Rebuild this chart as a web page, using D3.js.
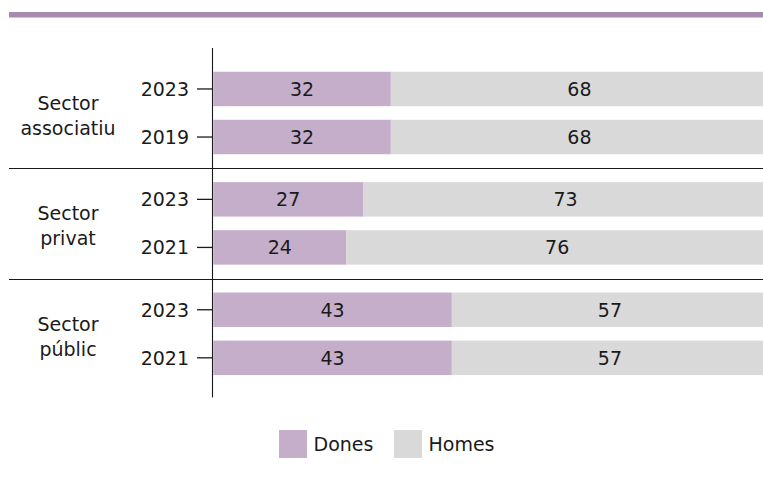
<!DOCTYPE html>
<html><head><meta charset="utf-8">
<script src="https://cdn.jsdelivr.net/npm/d3@7"></script>
<style>body{margin:0;background:#fff}svg{display:block}text{font-family:"DejaVu Sans",sans-serif;fill:#1a1a1a}</style>
</head><body><svg id="c" width="763" height="487"></svg>
<script>
const groups = ["Sector associatiu", "Sector privat", "Sector públic"];
const groupLines = [["Sector","associatiu"],["Sector","privat"],["Sector","públic"]];
const years = [["2023","2019"],["2023","2021"],["2023","2021"]];
const dones = [[32,32],[27,24],[43,43]];
const homes = [[68,68],[73,76],[57,57]];
const seriesNames = ["Dones","Homes"];
const colors = ["#c4aeca","#d9d9d9"];

const svg = d3.select("#c");
const fs = 19;

svg.append("rect").attr("x",9).attr("y",12).attr("width",754).attr("height",5.5).attr("fill","#a78baf");

const y0 = d3.scaleBand().domain(groups).range([57.8,389]).paddingInner(0).paddingOuter(0);
const y1 = d3.scaleBand().domain([0,1]).range([0,y0.bandwidth()]).paddingInner(0.283).paddingOuter(0.29);
const x = d3.scaleLinear().domain([0,100]).range([213.3,768]);

groups.forEach((g,gi)=>{
  const gy = y0(g);
  const gEl = svg.append("g").attr("transform",`translate(0,${gy})`);
  [0,1].forEach(i=>{
    const yy = y1(i), h = y1.bandwidth();
    const d = dones[gi][i], m = homes[gi][i];
    gEl.append("rect").attr("x",x(0)).attr("y",yy).attr("width",x(d)-x(0)).attr("height",h).attr("fill",colors[0]);
    gEl.append("rect").attr("x",x(d)).attr("y",yy).attr("width",x(d+m)-x(d)).attr("height",h).attr("fill",colors[1]);
    gEl.append("text").attr("x",(x(0)+x(d))/2).attr("y",yy+h/2).attr("dy","0.36em").attr("text-anchor","middle").attr("font-size",fs).text(d);
    gEl.append("text").attr("x",(x(d)+x(d+m))/2).attr("y",yy+h/2).attr("dy","0.36em").attr("text-anchor","middle").attr("font-size",fs).text(m);
    gEl.append("line").attr("x1",197).attr("x2",212.5).attr("y1",yy+h/2).attr("y2",yy+h/2).attr("stroke","#1a1a1a").attr("stroke-width",1.3);
    gEl.append("text").attr("x",189).attr("y",yy+h/2).attr("dy","0.36em").attr("text-anchor","end").attr("font-size",fs).text(years[gi][i]);
  });
  const cy = y0.bandwidth()/2;
  gEl.append("text").attr("x",68).attr("y",cy-3).attr("text-anchor","middle").attr("font-size",fs).text(groupLines[gi][0]);
  gEl.append("text").attr("x",68).attr("y",cy+22).attr("text-anchor","middle").attr("font-size",fs).text(groupLines[gi][1]);
  if(gi>0){
    const ly = Math.round(gy)+0.5;
    svg.append("line").attr("x1",9).attr("x2",763).attr("y1",ly).attr("y2",ly).attr("stroke","#1a1a1a").attr("stroke-width",1.1);
  }
});

svg.append("line").attr("x1",212.5).attr("x2",212.5).attr("y1",48).attr("y2",397.5).attr("stroke","#1a1a1a").attr("stroke-width",1.1);

const lx = [279,394];
seriesNames.forEach((s,i)=>{
  svg.append("rect").attr("x",lx[i]).attr("y",430).attr("width",28).attr("height",28).attr("fill",colors[i]);
  svg.append("text").attr("x",lx[i]+34.5).attr("y",444).attr("dy","0.36em").attr("font-size",fs).text(s);
});
</script></body></html>
